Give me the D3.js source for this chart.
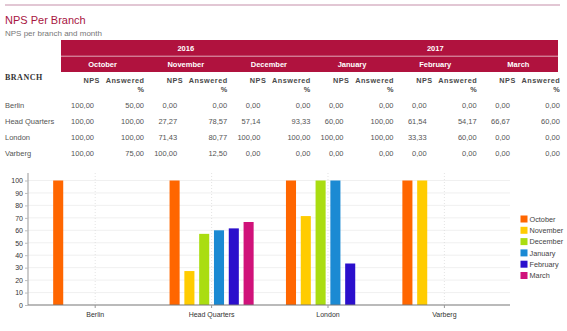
<!DOCTYPE html>
<html>
<head>
<meta charset="utf-8">
<script src="https://cdn.jsdelivr.net/npm/d3@7"></script>
<style>
  html, body { margin: 0; padding: 0; background: #fff; }
  svg { display: block; font-family: "Liberation Sans", Arial, sans-serif; }
</style>
</head>
<body>
<svg id="chart" width="567" height="331"></svg>
<script>
// ---- data ----
const branches = ["Berlin", "Head Quarters", "London", "Varberg"];
const months = ["October", "November", "December", "January", "February", "March"];
const years = ["2016", "2017"];
const yearMonthCounts = [3, 3];
const npsValues = [
  [100, 0, 0, 0, 0, 0],
  [100, 27.27, 57.14, 60, 61.54, 66.67],
  [100, 71.43, 100, 100, 33.33, 0],
  [100, 100, 0, 0, 0, 0]
];
const answeredValues = [
  [50, 0, 0, 0, 0, 0],
  [100, 78.57, 93.33, 100, 54.17, 60],
  [100, 80.77, 100, 100, 60, 0],
  [75, 12.5, 0, 0, 0, 0]
];
const yTicks = [0, 10, 20, 30, 40, 50, 60, 70, 80, 90, 100];
const colors = ["#ff6600", "#ffcc00", "#aadd11", "#1b8ad3", "#2b0fcc", "#d0127a"];

const svg = d3.select("#chart");
const crimson = "#b0123e";

// ---- header ----
svg.append("line").attr("x1", 5).attr("x2", 560).attr("y1", 5).attr("y2", 5)
  .attr("stroke", "#d9b5c6").attr("stroke-width", 1.5);
svg.append("text").attr("x", 5).attr("y", 24).attr("font-size", 11).attr("fill", "#a8153f")
  .text("NPS Per Branch");
svg.append("text").attr("x", 5).attr("y", 35.5).attr("font-size", 8).attr("fill", "#777")
  .text("NPS per branch and month");

// ---- table ----
const tx = d3.scaleBand().domain(months).range([61, 560]);
const fmt = v => d3.format(".2f")(v).replace(".", ",");

svg.append("rect").attr("x", 61).attr("y", 40).attr("width", 497).attr("height", 32).attr("fill", crimson);
svg.append("line").attr("x1", 61).attr("x2", 558).attr("y1", 56.2).attr("y2", 56.2)
  .attr("stroke", "#fff").attr("stroke-width", 0.8).attr("opacity", 0.8);

let start = 0;
years.forEach((yr, i) => {
  const m0 = months[start], m1 = months[start + yearMonthCounts[i] - 1];
  const cx = (tx(m0) + tx(m1) + tx.bandwidth()) / 2;
  svg.append("text").attr("x", cx).attr("y", 51).attr("text-anchor", "middle")
    .attr("font-size", 7.5).attr("font-weight", "bold").attr("fill", "#fff").text(yr);
  start += yearMonthCounts[i];
});
months.forEach(m => {
  svg.append("text").attr("x", tx(m) + tx.bandwidth() / 2).attr("y", 66.5).attr("text-anchor", "middle")
    .attr("font-size", 7.5).attr("font-weight", "bold").attr("fill", "#fff").text(m);
  svg.append("text").attr("x", tx(m) + 39).attr("y", 83).attr("text-anchor", "end")
    .attr("font-size", 7.3).attr("font-weight", "bold").attr("fill", "#4a4a4a").attr("letter-spacing", 0.5).text("NPS");
  svg.append("text").attr("x", tx(m) + 83.5).attr("y", 83).attr("text-anchor", "end")
    .attr("font-size", 7.3).attr("font-weight", "bold").attr("fill", "#4a4a4a").attr("letter-spacing", 0.5).text("Answered");
  svg.append("text").attr("x", tx(m) + 83).attr("y", 92).attr("text-anchor", "end")
    .attr("font-size", 7.3).attr("font-weight", "bold").attr("fill", "#4a4a4a").text("%");
});
svg.append("text").attr("x", 5).attr("y", 80).attr("font-family", "'Liberation Serif', serif")
  .attr("font-size", 8).attr("font-weight", "bold").attr("fill", "#333").attr("letter-spacing", 0.5).text("BRANCH");

const rowY = d3.scalePoint().domain(branches).range([107.5, 155.5]);
branches.forEach((b, bi) => {
  svg.append("text").attr("x", 5).attr("y", rowY(b)).attr("font-size", 7.5).attr("fill", "#555").text(b);
  months.forEach((m, mi) => {
    svg.append("text").attr("x", tx(m) + 33).attr("y", rowY(b)).attr("text-anchor", "end")
      .attr("font-size", 7.5).attr("fill", "#555").text(fmt(npsValues[bi][mi]));
    svg.append("text").attr("x", tx(m) + 83).attr("y", rowY(b)).attr("text-anchor", "end")
      .attr("font-size", 7.5).attr("fill", "#555").text(fmt(answeredValues[bi][mi]));
  });
});

// ---- bar chart ----
const plotL = 28, plotR = 510, plotT = 173, plotB = 305;
const x0 = d3.scaleBand().domain(branches).range([37, 502.6]).paddingInner(0.237).paddingOuter(0.1185);
const x1 = d3.scaleBand().domain(months).range([0, x0.bandwidth()]).paddingInner(0.32).paddingOuter(0.16);
const y = d3.scaleLinear().domain([0, 100]).range([plotB, 180.5]);

const g = svg.append("g");
// horizontal grid
g.selectAll("line.hg").data(yTicks.slice(1)).join("line")
  .attr("x1", plotL).attr("x2", plotR).attr("y1", d => y(d)).attr("y2", d => y(d))
  .attr("stroke", "#ececec").attr("stroke-width", 0.8);
// vertical dotted grid
g.selectAll("line.vg").data(branches).join("line")
  .attr("x1", d => x0(d) + x0.bandwidth() / 2).attr("x2", d => x0(d) + x0.bandwidth() / 2)
  .attr("y1", plotT).attr("y2", plotB)
  .attr("stroke", "#d8d8d8").attr("stroke-width", 0.7).attr("stroke-dasharray", "1,2");

// bars
branches.forEach((b, bi) => {
  g.selectAll(null).data(npsValues[bi].map((v, mi) => ({ v, m: months[mi], c: colors[mi] })).filter(d => d.v > 0))
    .join("rect")
    .attr("x", d => x0(b) + x1(d.m)).attr("width", x1.bandwidth())
    .attr("y", d => y(d.v)).attr("height", d => plotB - y(d.v))
    .attr("fill", d => d.c);
});

// y axis
const yAxis = d3.axisLeft(y).tickValues(yTicks).tickSize(3).tickPadding(2);
const ya = svg.append("g").attr("transform", `translate(${plotL},0)`).call(yAxis);
ya.select(".domain").attr("d", `M0,${plotT}V${plotB}`).attr("stroke", "#999");
ya.selectAll(".tick line").attr("stroke", "#bbb");
ya.selectAll(".tick text").attr("font-size", 7).attr("fill", "#333").attr("font-family", "'Liberation Sans', Arial, sans-serif");

// x axis
const xAxis = d3.axisBottom(x0).tickSize(3).tickPadding(4);
const xa = svg.append("g").attr("transform", `translate(0,${plotB})`).call(xAxis);
xa.select(".domain").attr("d", `M${plotL},0H${plotR}`).attr("stroke", "#777").attr("stroke-width", 1.2);
xa.selectAll(".tick line").attr("stroke", "#999");
xa.selectAll(".tick text").attr("font-size", 7).attr("fill", "#333").attr("font-family", "'Liberation Sans', Arial, sans-serif");

// legend
const leg = svg.append("g");
const ly = d3.scalePoint().domain(months).range([219, 275.5]);
months.forEach((m, i) => {
  leg.append("rect").attr("x", 520.5).attr("y", ly(m) - 3.5).attr("width", 7).attr("height", 7).attr("fill", colors[i]);
  leg.append("text").attr("x", 529.5).attr("y", ly(m) + 2.6).attr("font-size", 7.3).attr("fill", "#444").text(m);
});
</script>
</body>
</html>
